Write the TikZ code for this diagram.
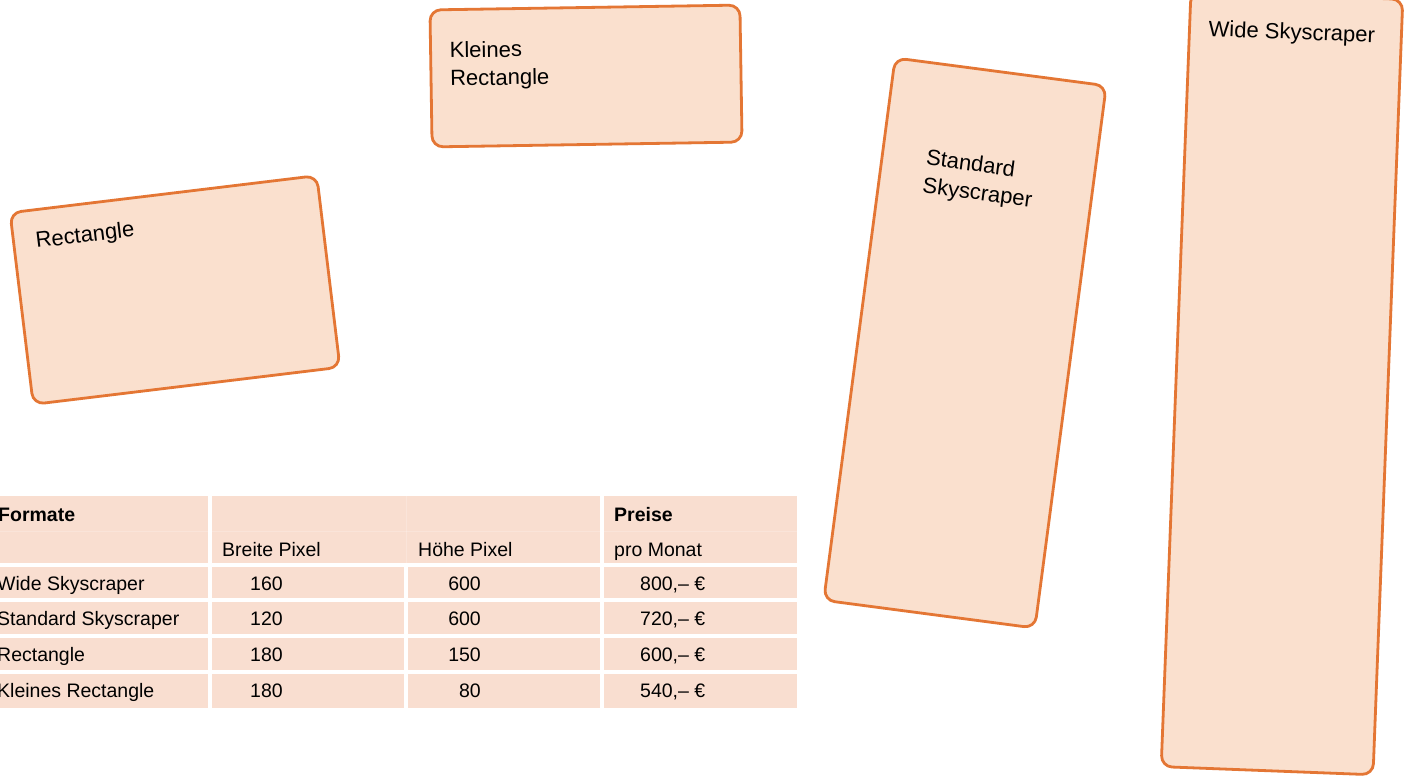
\documentclass[tikz,border=0pt]{standalone}
\usepackage{fontspec}
\setmainfont{Liberation Sans}
\definecolor{boxfill}{RGB}{250,224,206}
\definecolor{boxline}{RGB}{228,118,52}
\definecolor{cellfill}{RGB}{249,222,208}
\begin{document}
\begin{tikzpicture}[x=1pt,y=-1pt,
  adbox/.style={draw=boxline, fill=boxfill, line width=2.8pt, rounded corners=11pt, inner sep=0pt},
  boxtext/.style={font=\fontsize{22}{28}\selectfont, inner sep=0pt, align=left, anchor=north west},
  celltext/.style={font=\fontsize{19.5}{23}\selectfont, inner sep=0pt, anchor=base west},
  hdtext/.style={celltext, font=\fontsize{19.5}{23}\selectfont\bfseries},
  numtext/.style={celltext, anchor=base east},
  faint/.style={draw=white, line width=0.8pt, opacity=0.2}]
\clip (0,0) rectangle (1409,778);
\fill[white] (0,0) rectangle (1409,778);

% Kleines Rectangle
\begin{scope}[shift={(586,76)}, rotate=0.9, transform shape]
  \node[adbox, minimum width=310pt, minimum height=137pt] (kleinbox) at (0,0) {};
  \node[boxtext] (kleintext) at (-136,-36.5) {Kleines\\Rectangle};
\end{scope}

% Rectangle
\begin{scope}[shift={(175,290)}, rotate=6.9, transform shape]
  \node[adbox, minimum width=309pt, minimum height=193pt] (rectbox) at (0,0) {};
  \node[boxtext] (recttext) at (-132.5,-74.5) {Rectangle};
\end{scope}

% Standard Skyscraper
\begin{scope}[shift={(965,343)}, rotate=-7.5, transform shape]
  \node[adbox, minimum width=213pt, minimum height=547pt] (stdbox) at (0,0) {};
  \node[boxtext] (stdtext) at (-62.5,-187.5) {Standard\\Skyscraper};
\end{scope}

% Wide Skyscraper
\begin{scope}[shift={(1282,383)}, rotate=-2.2, transform shape]
  \node[adbox, minimum width=212pt, minimum height=776pt] (widebox) at (0,0) {};
  \node[boxtext] (widetext) at (-87,-360) {Wide Skyscraper};
\end{scope}

% Table cells
\fill[cellfill] (-5,496) rectangle (208,563);
\fill[cellfill] (212,496) rectangle (600,563);
\fill[cellfill] (604,496) rectangle (797,563);
\foreach \ya/\yb in {567/598, 602/634, 638/670, 674/708}{
  \fill[cellfill] (-5,\ya) rectangle (208,\yb);
  \fill[cellfill] (212,\ya) rectangle (404,\yb);
  \fill[cellfill] (408,\ya) rectangle (600,\yb);
  \fill[cellfill] (604,\ya) rectangle (797,\yb);
}
\draw[faint] (-5,531) -- (208,531);
\draw[faint] (212,531) -- (600,531);
\draw[faint] (604,531) -- (797,531);
\draw[faint] (406,496) -- (406,563);

% Header text
\node[hdtext] (hformate) at (-2,521) {Formate};
\node[hdtext] (hpreise) at (614,521) {Preise};
\node[celltext] (hbreite) at (222,556) {Breite Pixel};
\node[celltext] (hhoehe) at (418,556) {Höhe Pixel};
\node[celltext] (hmonat) at (614,556) {pro Monat};

% Rows
\node[celltext] (r1a) at (-3,590) {Wide Skyscraper};
\node[celltext] (r1b) at (250,590) {160};
\node[numtext] (r1c) at (481,590) {600};
\node[celltext] (r1d) at (640,590) {800,– €};

\node[celltext] (r2a) at (-3,625) {Standard Skyscraper};
\node[celltext] (r2b) at (250,625) {120};
\node[numtext] (r2c) at (481,625) {600};
\node[celltext] (r2d) at (640,625) {720,– €};

\node[celltext] (r3a) at (-3,661) {Rectangle};
\node[celltext] (r3b) at (250,661) {180};
\node[numtext] (r3c) at (481,661) {150};
\node[celltext] (r3d) at (640,661) {600,– €};

\node[celltext] (r4a) at (-3,697) {Kleines Rectangle};
\node[celltext] (r4b) at (250,697) {180};
\node[numtext] (r4c) at (481,697) {80};
\node[celltext] (r4d) at (640,697) {540,– €};
\end{tikzpicture}
\end{document}
